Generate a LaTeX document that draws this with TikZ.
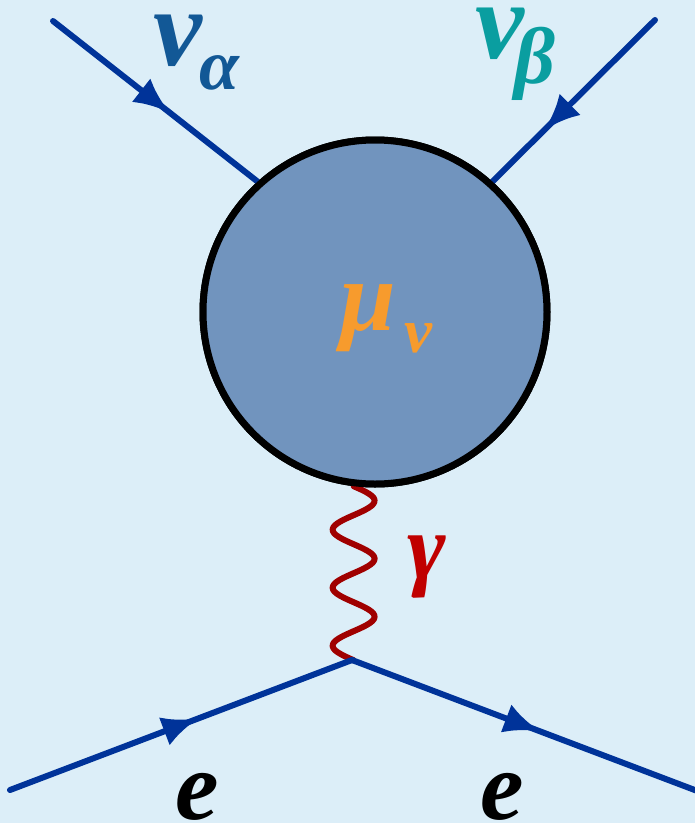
\documentclass[tikz,border=0pt]{standalone}
\usepackage{fontspec}
\setmainfont{Liberation Serif}
\usetikzlibrary{arrows.meta,decorations.markings}
\definecolor{fdbg}{RGB}{220,238,248}
\definecolor{fdblue}{RGB}{0,51,153}
\definecolor{fdblob}{RGB}{113,148,190}
\definecolor{fdred}{RGB}{160,0,0}
\definecolor{fdgamma}{RGB}{192,0,0}
\definecolor{fdalpha}{RGB}{18,88,150}
\definecolor{fdteal}{RGB}{10,158,160}
\definecolor{fdorange}{RGB}{247,155,45}
\tikzset{
  every picture/.style={line cap=round, line join=round},
  fermion/.style={fdblue, line width=6pt, postaction={decorate},
    decoration={markings, mark=at position #1 with {\arrow{Latex[length=36pt,width=30pt]}}}},
  fermion/.default=0.55,
  photon/.style={fdred, line width=6pt},
  blob/.style={circle, draw=black, fill=fdblob, line width=7pt,
    minimum size=344pt, inner sep=0pt},
  bigsym/.style={font=\fontsize{#1}{#1}\selectfont\bfseries\itshape,
    inner sep=0pt, anchor=base west, text height=0.5em, text depth=0pt},
}
\begin{document}
\begin{tikzpicture}[x=1pt, y=-1pt]
% background, fixes the size
\fill[fdbg] (0,0) rectangle (695,823);
\useasboundingbox (0,0) rectangle (695,823);
% ends of the external legs
\coordinate (ina) at (53,21);
\coordinate (inb) at (655,20);
\coordinate (ein) at (10,790);
\coordinate (eout) at (700,792);
\coordinate (vtx) at (352,660);
% the blob
\node[blob] (loop) at (375,312) {};
% neutrino legs
\draw[fermion=0.57] (ina) -- (loop.132);
\draw[fermion=0.68] (inb) -- (loop.48);
% photon, three wiggles down to the vertex
\draw[photon, shift={(loop.-97)}] plot[domain=0:174, samples=90, smooth]
  ({21*sin(6.2069*\x)}, \x) -- (vtx);
% electron legs
\draw[fermion=0.55] (ein) -- (vtx);
\draw[fermion=0.54] (vtx) -- (eout);
\node[blob] at (loop) {};
% labels
\node[bigsym=110, text=fdalpha] (nua) at (153,65) {v};
\node[bigsym=72, text=fdalpha] (suba) at (199,89) {α};
\node[bigsym=110, text=fdteal] (nub) at (475,58) {v};
\node[bigsym=80, text=fdteal, text height=0.68em] (subb) at (514,83) {β};
\node[bigsym=100, text=fdorange] (mu) at (340,330) {μ};
\node[bigsym=63, text=fdorange] (subm) at (404,352) {v};
\node[bigsym=93, text=fdgamma] (gam) at (407,578) {γ};
\node[bigsym=98] (ea) at (175,819) {e};
\node[bigsym=98] (eb) at (480,819) {e};
\end{tikzpicture}
\end{document}
